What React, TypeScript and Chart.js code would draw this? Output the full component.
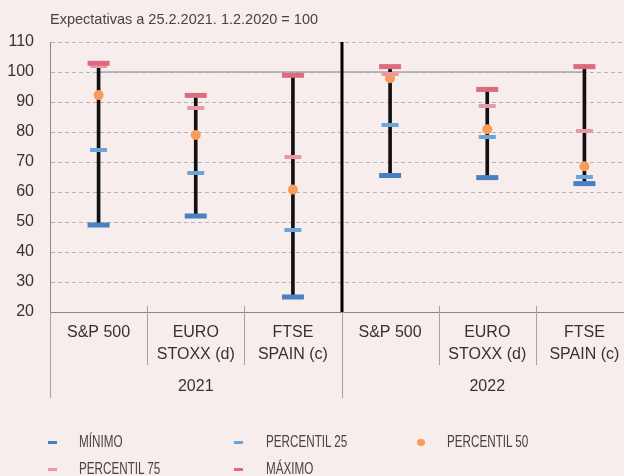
import React, { useEffect, useRef } from 'react';
import { Chart, registerables } from 'chart.js';

Chart.register(...registerables);

const categories: string[][] = [
  ['S&P 500'],
  ['EURO', 'STOXX (d)'],
  ['FTSE', 'SPAIN (c)'],
  ['S&P 500'],
  ['EURO', 'STOXX (d)'],
  ['FTSE', 'SPAIN (c)'],
];
const groups = ['2021', '2022'];
const groupSizes = [3, 3];

const minimo = [49, 52, 25, 65.5, 64.8, 62.8];
const percentil25 = [74, 66.3, 47.3, 82.3, 78.3, 65];
const percentil50 = [92.3, 79, 60.8, 97.9, 80.9, 68.6];
const percentil75 = [102, 88, 71.7, 99.3, 88.7, 80.3];
const maximo = [102.9, 92.2, 98.9, 101.8, 94.2, 101.8];
const referencia = [100, 100, 100, 100, 100, 100];

const yMin = 20;
const yMax = 110;
const yStep = 10;

const titleText = 'Expectativas a 25.2.2021. 1.2.2020 = 100';

const legendItems = [
  { label: 'MÍNIMO', color: '#4a7fc1', kind: 'dash' },
  { label: 'PERCENTIL 25', color: '#6aa6dc', kind: 'dash' },
  { label: 'PERCENTIL 50', color: '#f89c5c', kind: 'dot' },
  { label: 'PERCENTIL 75', color: '#e899a4', kind: 'dash' },
  { label: 'MÁXIMO', color: '#dc6b7d', kind: 'dash' },
];

const BG = '#f8eded';
const FONT = 'Liberation Sans, Arial, sans-serif';

const dividerPlugin = {
  id: 'dividers',
  afterDraw(chart: any) {
    const { ctx, chartArea, scales } = chart;
    const x = scales.x;
    const n = categories.length;
    const bounds: number[] = [];
    for (let i = 0; i <= n; i++) {
      if (i === 0) bounds.push(x.left);
      else if (i === n) bounds.push(x.right);
      else bounds.push((x.getPixelForValue(i - 1) + x.getPixelForValue(i)) / 2);
    }
    const groupBounds: number[] = [0];
    groupSizes.forEach((s) => groupBounds.push(groupBounds[groupBounds.length - 1] + s));
    ctx.save();
    ctx.strokeStyle = '#a3a3a3';
    ctx.lineWidth = 1;
    for (let i = 0; i <= n; i++) {
      const px = Math.round(bounds[i]) + 0.5;
      const isGroup = groupBounds.includes(i);
      ctx.beginPath();
      if (isGroup) {
        ctx.moveTo(px, chartArea.bottom);
        ctx.lineTo(px, chartArea.bottom + 86);
      } else {
        ctx.moveTo(px, chartArea.bottom - 6);
        ctx.lineTo(px, chartArea.bottom + 53);
      }
      ctx.stroke();
    }
    // thick black separator between groups
    ctx.strokeStyle = '#000';
    ctx.lineWidth = 3;
    for (let g = 1; g < groupBounds.length - 1; g++) {
      const px = Math.round(bounds[groupBounds[g]]);
      ctx.beginPath();
      ctx.moveTo(px, chartArea.top);
      ctx.lineTo(px, chartArea.bottom);
      ctx.stroke();
    }
    // group labels
    ctx.fillStyle = '#333';
    ctx.font = `16px ${FONT}`;
    ctx.textAlign = 'center';
    ctx.textBaseline = 'middle';
    for (let g = 0; g < groups.length; g++) {
      const cx = (bounds[groupBounds[g]] + bounds[groupBounds[g + 1]]) / 2;
      ctx.fillText(groups[g], cx, chartArea.bottom + 75);
    }
    ctx.restore();
  },
};

function markerDataset(label: string, data: number[], color: string, radius: number, width: number, order: number) {
  return {
    type: 'line' as const,
    label,
    data,
    showLine: false,
    borderColor: color,
    backgroundColor: color,
    pointStyle: 'line',
    pointRadius: radius,
    pointHoverRadius: radius,
    pointBorderWidth: width,
    pointHoverBorderWidth: width,
    pointBorderColor: color,
    order,
  };
}

export default function App() {
  const canvasRef = useRef<HTMLCanvasElement | null>(null);

  useEffect(() => {
    document.body.style.margin = '0';
    document.body.style.background = BG;
    const canvas = canvasRef.current;
    if (!canvas) return;
    const chart = new Chart(canvas, {
      type: 'bar',
      data: {
        labels: categories as any,
        datasets: [
          markerDataset('MÁXIMO', maximo, '#dc6b7d', 11, 5, 1) as any,
          markerDataset('PERCENTIL 75', percentil75, '#e899a4', 8.5, 4, 2) as any,
          markerDataset('PERCENTIL 25', percentil25, '#6aa6dc', 8.5, 4, 3) as any,
          markerDataset('MÍNIMO', minimo, '#4a7fc1', 11, 5, 4) as any,
          {
            type: 'line',
            label: 'PERCENTIL 50',
            data: percentil50,
            showLine: false,
            pointStyle: 'circle',
            pointRadius: 5,
            pointHoverRadius: 5,
            pointBorderWidth: 0,
            pointBackgroundColor: '#f89c5c',
            borderColor: '#f89c5c',
            backgroundColor: '#f89c5c',
            order: 5,
          } as any,
          {
            type: 'bar',
            label: 'Rango',
            data: minimo.map((m, i) => [m, maximo[i]]),
            backgroundColor: '#111',
            barThickness: 3,
            order: 6,
          } as any,
          {
            type: 'line',
            label: '100',
            data: referencia,
            borderColor: '#a6a6a6',
            borderWidth: 1.5,
            pointRadius: 0,
            pointHoverRadius: 0,
            order: 7,
          } as any,
        ],
      },
      options: {
        responsive: false,
        animation: false,
        devicePixelRatio: 1,
        layout: { autoPadding: false, padding: { top: 42, left: 0, right: 0, bottom: 64 } },
        plugins: {
          legend: { display: false },
          tooltip: { enabled: false },
          title: { display: false },
        },
        events: [],
        scales: {
          x: {
            type: 'category',
            offset: true,
            grid: { display: false, drawTicks: false },
            border: { display: true, color: '#8a8a8a', width: 1 },
            ticks: {
              color: '#333',
              font: { family: FONT, size: 16, lineHeight: 1.35 },
              padding: 10,
              maxRotation: 0,
              autoSkip: false,
            },
            afterFit: (s: any) => {
              s.height = 100;
              s.paddingLeft = 0;
              s.paddingRight = 0;
            },
          },
          y: {
            min: yMin,
            max: yMax,
            ticks: {
              stepSize: yStep,
              color: '#333',
              font: { family: FONT, size: 16 },
              padding: 16,
            },
            grid: {
              drawTicks: false,
              lineWidth: 1,
              color: (ctx: any) => (ctx.tick && ctx.tick.value === yMin ? 'rgba(0,0,0,0)' : '#b5b5b5'),
            },
            border: { display: true, color: '#8a8a8a', width: 1, dash: [4, 3] },
            afterFit: (s: any) => {
              s.width = 50;
            },
          },
        },
      },
      plugins: [dividerPlugin],
    } as any);
    return () => chart.destroy();
  }, []);

  const colX = [
    { marker: 48, text: 79 },
    { marker: 234, text: 266 },
    { marker: 417, text: 447 },
  ];
  const rowY = [442.5, 469];

  return (
    <div style={{ position: 'relative', width: 624, height: 476, overflow: 'hidden', background: BG }}>
      <canvas ref={canvasRef} width={633} height={476} style={{ display: 'block', position: 'absolute', left: 0, top: 0 }} />
      <div
        style={{
          position: 'absolute',
          left: 50,
          top: 11,
          fontFamily: FONT,
          fontSize: 14.5,
          lineHeight: '16px',
          color: '#444',
          whiteSpace: 'nowrap',
        }}
      >
        {titleText}
      </div>
      {legendItems.map((item, i) => {
        const col = colX[i % 3];
        const cy = rowY[Math.floor(i / 3)];
        return (
          <React.Fragment key={item.label}>
            {item.kind === 'dash' ? (
              <div
                style={{
                  position: 'absolute',
                  left: col.marker,
                  top: cy - 1.5,
                  width: 9,
                  height: 3,
                  background: item.color,
                }}
              />
            ) : (
              <div
                style={{
                  position: 'absolute',
                  left: col.marker,
                  top: cy - 3.75,
                  width: 7.5,
                  height: 7.5,
                  borderRadius: '50%',
                  background: item.color,
                }}
              />
            )}
            <div
              style={{
                position: 'absolute',
                left: col.text,
                top: cy - 9.5,
                fontFamily: FONT,
                fontSize: 16,
                lineHeight: '18px',
                color: '#444',
                whiteSpace: 'nowrap',
                transform: 'scaleX(0.73)',
                transformOrigin: 'left center',
              }}
            >
              {item.label}
            </div>
          </React.Fragment>
        );
      })}
    </div>
  );
}
